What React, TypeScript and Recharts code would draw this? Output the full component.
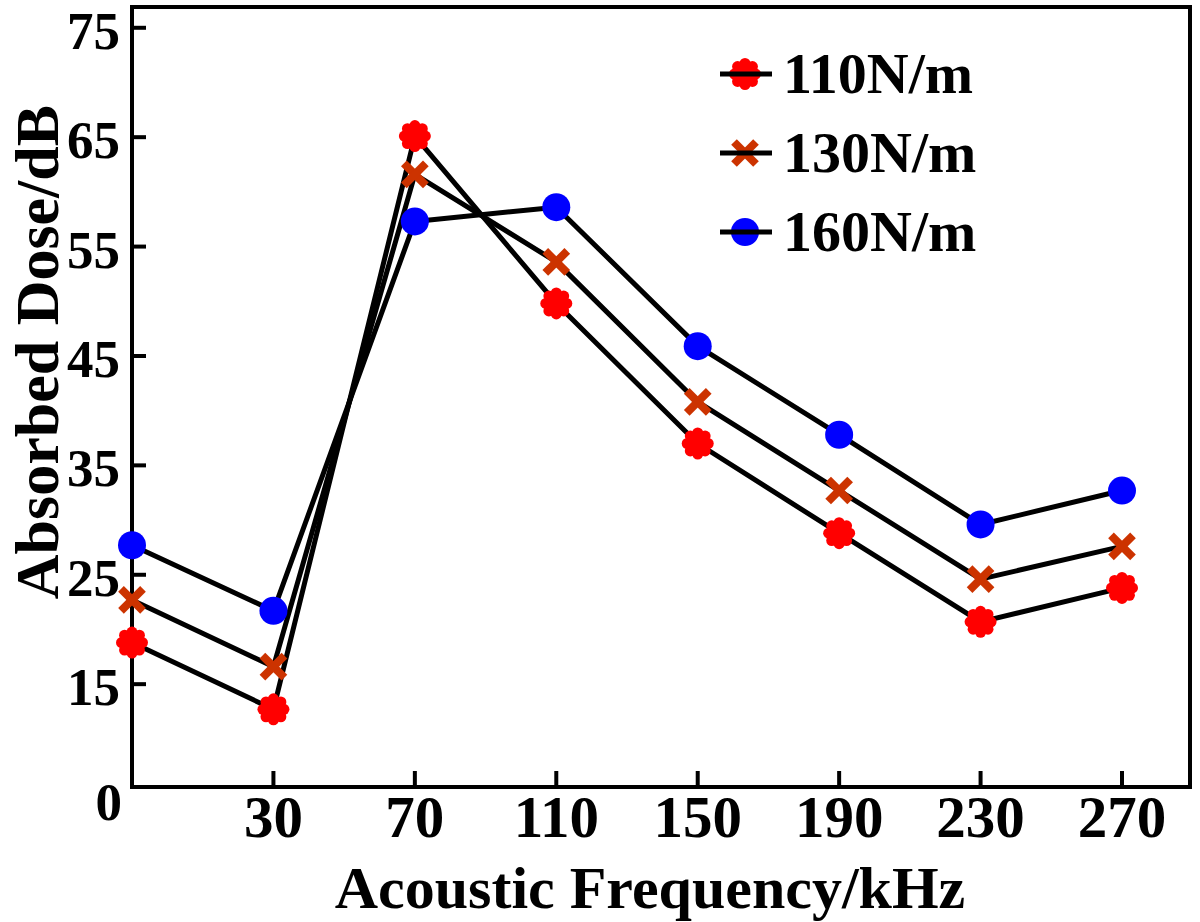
import { LineChart, Line, XAxis, YAxis, Legend } from 'recharts';

const frequencies = ['', '30', '70', '110', '150', '190', '230', '270'];
const dose110 = [18.8, 12.7, 65.1, 49.8, 37.0, 28.8, 20.7, 23.8];
const dose130 = [22.7, 16.6, 61.6, 53.6, 40.8, 32.7, 24.6, 27.6];
const dose160 = [27.7, 21.7, 57.3, 58.6, 45.9, 37.8, 29.6, 32.7];
const doseTicks = [15, 25, 35, 45, 55, 65, 75];
const seriesNames = ['110N/m', '130N/m', '160N/m'];

// y axis is broken under 15, its bottom end carries the "0" label
const axisBreak = 5.6;
const axisTop = 76.9;

const data = frequencies.map((freq, i) => ({
  freq,
  s110: dose110[i],
  s130: dose130[i],
  s160: dose160[i],
}));

const FONT = '"Liberation Serif", "Times New Roman", serif';

const redGear = (cx: number, cy: number) => (
  <g>
    <circle cx={cx} cy={cy} r={12} fill="#ff0000" />
    {[0, 1, 2, 3, 4, 5, 6, 7].map((k) => (
      <circle
        key={k}
        cx={cx + 10.5 * Math.cos((k * Math.PI) / 4)}
        cy={cy + 10.5 * Math.sin((k * Math.PI) / 4)}
        r={5.5}
        fill="#ff0000"
      />
    ))}
  </g>
);

const orangeCross = (cx: number, cy: number) => (
  <g stroke="#cc3300" strokeWidth={8}>
    <line x1={cx - 11} y1={cy - 11} x2={cx + 11} y2={cy + 11} />
    <line x1={cx - 11} y1={cy + 11} x2={cx + 11} y2={cy - 11} />
  </g>
);

const blueDot = (cx: number, cy: number) => <circle cx={cx} cy={cy} r={14} fill="#0000ff" />;

const markers = [redGear, orangeCross, blueDot];

const makeDot = (draw: (cx: number, cy: number) => JSX.Element) => (props: any) => {
  const { cx, cy, index } = props;
  if (cx == null || cy == null) return <g key={index} />;
  return <g key={index}>{draw(cx, cy)}</g>;
};

function DoseTick(props: any) {
  const { x, y, payload } = props;
  const base = payload.value < 10;
  return (
    <g>
      {!base && <line x1={x} y1={y} x2={x + 14} y2={y} stroke="#000" strokeWidth={4} />}
      <text
        x={base ? x - 10 : x - 12}
        y={base ? y + 33 : y + 21}
        textAnchor="end"
        fontFamily={FONT}
        fontWeight="bold"
        fontSize={53}
        fill="#000"
      >
        {base ? '0' : payload.value}
      </text>
    </g>
  );
}

function FreqTick(props: any) {
  const { x, y, payload } = props;
  if (payload.value === '') return <g />;
  return (
    <g>
      <line x1={x} y1={y} x2={x} y2={y - 16} stroke="#000" strokeWidth={4} />
      <text x={x} y={y + 50} textAnchor="middle" fontFamily={FONT} fontWeight="bold" fontSize={59} fill="#000">
        {payload.value}
      </text>
    </g>
  );
}

function XTitle(props: any) {
  const { x, y, width } = props.viewBox;
  return (
    <text x={x + width / 2 - 11} y={y + 121} textAnchor="middle" fontFamily={FONT} fontWeight="bold" fontSize={60} fill="#000">
      Acoustic Frequency/kHz
    </text>
  );
}

function YTitle(props: any) {
  const { y, height } = props.viewBox;
  const cx = 58;
  const cy = y + height / 2 - 45;
  return (
    <text
      x={cx}
      y={cy}
      transform={`rotate(-90, ${cx}, ${cy})`}
      textAnchor="middle"
      fontFamily={FONT}
      fontWeight="bold"
      fontSize={62}
      fill="#000"
    >
      Absorbed Dose/dB
    </text>
  );
}

const renderLegend = (props: any) => {
  const items = props.payload && props.payload.length ? props.payload.map((p: any) => p.value) : seriesNames;
  return (
    <svg width={290} height={230}>
      {items.map((name: string, i: number) => {
        const cy = 34 + i * 79;
        return (
          <g key={name}>
            {markers[i](28, cy)}
            <line x1={3} x2={55} y1={cy} y2={cy} stroke="#000" strokeWidth={5} />
            <text x={66} y={cy + 19} fontFamily={FONT} fontWeight="bold" fontSize={58} fill="#000">
              {name}
            </text>
          </g>
        );
      })}
    </svg>
  );
};

export default function App() {
  return (
    <div style={{ position: 'absolute', left: 0, top: 0, background: '#fff' }}>
      <LineChart width={1200} height={922} data={data} margin={{ top: 6, right: 9, bottom: 0, left: 0 }}>
        <XAxis
          dataKey="freq"
          type="category"
          height={135}
          padding={{ left: 0, right: 68 }}
          interval={0}
          tickSize={0}
          tickMargin={0}
          tickLine={false}
          tick={<FreqTick />}
          axisLine={{ stroke: '#000', strokeWidth: 4, strokeLinecap: 'square' }}
          label={<XTitle />}
        />
        <YAxis
          type="number"
          width={132}
          domain={[axisBreak, axisTop]}
          allowDataOverflow
          ticks={[axisBreak, ...doseTicks]}
          interval={0}
          tickSize={0}
          tickMargin={0}
          tickLine={false}
          tick={<DoseTick />}
          axisLine={{ stroke: '#000', strokeWidth: 4, strokeLinecap: 'square' }}
          label={<YTitle />}
        />
        <XAxis
          xAxisId="frame"
          orientation="top"
          dataKey="freq"
          height={1}
          tick={false}
          tickLine={false}
          axisLine={{ stroke: '#000', strokeWidth: 4, strokeLinecap: 'square' }}
        />
        <YAxis
          yAxisId="frame"
          orientation="right"
          type="number"
          domain={[0, 1]}
          width={1}
          tick={false}
          tickLine={false}
          axisLine={{ stroke: '#000', strokeWidth: 4, strokeLinecap: 'square' }}
        />
        <Legend
          layout="vertical"
          align="center"
          verticalAlign="middle"
          content={renderLegend}
          wrapperStyle={{ left: 717, top: 40, width: 290, height: 230 }}
        />
        <Line
          dataKey="s110"
          name={seriesNames[0]}
          stroke="#000"
          strokeWidth={5}
          strokeLinejoin="round"
          dot={makeDot(redGear)}
          activeDot={false}
          isAnimationActive={false}
        />
        <Line
          dataKey="s130"
          name={seriesNames[1]}
          stroke="#000"
          strokeWidth={5}
          strokeLinejoin="round"
          dot={makeDot(orangeCross)}
          activeDot={false}
          isAnimationActive={false}
        />
        <Line
          dataKey="s160"
          name={seriesNames[2]}
          stroke="#000"
          strokeWidth={5}
          strokeLinejoin="round"
          dot={makeDot(blueDot)}
          activeDot={false}
          isAnimationActive={false}
        />
      </LineChart>
    </div>
  );
}
